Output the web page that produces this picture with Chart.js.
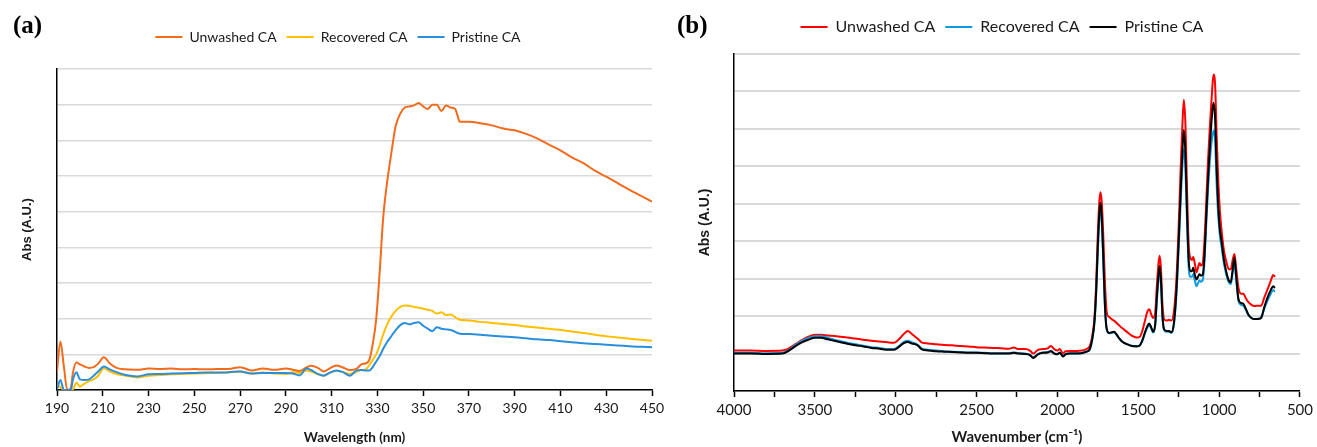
<!DOCTYPE html>
<html>
<head>
<meta charset="utf-8">
<script src="https://cdn.jsdelivr.net/npm/chart.js@4.4.0/dist/chart.umd.min.js"></script>
<style>
  html, body { margin: 0; padding: 0; background: #fff; }
  #wrap { position: relative; width: 1317px; height: 447px; overflow: hidden; }
  .panel { position: absolute; top: 0; }
  .tag { position: absolute; font-family: 'Liberation Serif', 'DejaVu Serif', serif; font-weight: bold; font-size: 25px; line-height: 1; }
</style>
</head>
<body>
<div id="wrap">
  <div class="panel" style="left:0"><canvas id="uv" width="676" height="447"></canvas></div>
  <div class="panel" style="left:686px"><canvas id="ir" width="631" height="447"></canvas></div>
  <div class="tag" style="left:13px;top:12px">(a)</div>
  <div class="tag" style="left:677px;top:12px">(b)</div>
</div>
<script>
const seriesNames = ['Unwashed CA', 'Recovered CA', 'Pristine CA'];

// (a) UV-vis, wavelength in nm
const uvWavelength = [190, 191.5, 193, 194.5, 196, 197, 198.5, 200, 202, 204, 206, 208, 210.5, 213, 216, 220, 225, 230, 235, 240,
  245, 250, 255, 260, 265, 270, 275, 280, 285, 290, 293, 296, 299, 301, 304, 306.5, 309, 312, 315, 318,
  321, 323, 325, 326.5, 328, 329.5, 331, 332.5, 334, 336, 338, 340, 342, 344, 346, 348, 350, 352, 354, 356,
  358, 360, 362, 364, 365, 366, 370, 375, 380, 385, 390, 395, 400, 405, 410, 415, 420, 425, 430, 435,
  440, 445, 450];
const uvUnwashed = [0.52, 1.36, 0.66, 0, 0.05, 0.5, 0.77, 0.72, 0.66, 0.62, 0.64, 0.74, 0.92, 0.75, 0.62, 0.58, 0.57, 0.6, 0.59, 0.6,
  0.58, 0.59, 0.58, 0.59, 0.59, 0.64, 0.55, 0.6, 0.57, 0.6, 0.57, 0.53, 0.63, 0.68, 0.62, 0.52, 0.6, 0.69, 0.63, 0.56,
  0.6, 0.72, 0.75, 0.85, 1.3, 2.0, 3.3, 4.8, 5.7, 6.6, 7.4, 7.75, 7.92, 7.95, 7.98, 8.05, 7.95, 7.88, 8.0, 8.0,
  7.82, 7.98, 7.92, 7.88, 7.7, 7.52, 7.52, 7.48, 7.42, 7.33, 7.28, 7.18, 7.05, 6.88, 6.72, 6.52, 6.36, 6.15, 5.98, 5.8,
  5.62, 5.45, 5.28];
const uvRecovered = [0.15, 0.08, 0, 0, 0, 0.02, 0.2, 0.1, 0.18, 0.25, 0.3, 0.4, 0.61, 0.52, 0.45, 0.4, 0.35, 0.4, 0.42, 0.44,
  0.45, 0.46, 0.47, 0.48, 0.49, 0.52, 0.46, 0.49, 0.46, 0.45, 0.5, 0.48, 0.55, 0.52, 0.44, 0.4, 0.48, 0.54, 0.5, 0.45,
  0.52, 0.56, 0.58, 0.7, 0.85, 1.0, 1.25, 1.55, 1.8, 2.05, 2.22, 2.33, 2.37, 2.36, 2.33, 2.31, 2.28, 2.25, 2.22, 2.14,
  2.18, 2.1, 2.12, 2.04, 2.0, 1.97, 1.95, 1.91, 1.88, 1.85, 1.82, 1.78, 1.75, 1.72, 1.68, 1.64, 1.6, 1.55, 1.51, 1.47,
  1.44, 1.41, 1.38];
const uvPristine = [0.02, 0.28, 0, 0, 0, 0.3, 0.5, 0.3, 0.28, 0.3, 0.4, 0.52, 0.66, 0.58, 0.5, 0.42, 0.38, 0.44, 0.45, 0.46,
  0.47, 0.48, 0.49, 0.49, 0.5, 0.52, 0.46, 0.48, 0.48, 0.48, 0.46, 0.41, 0.6, 0.56, 0.45, 0.4, 0.48, 0.55, 0.5, 0.4,
  0.55, 0.56, 0.55, 0.55, 0.65, 0.8, 0.95, 1.15, 1.32, 1.5, 1.68, 1.82, 1.88, 1.84, 1.88, 1.9, 1.8, 1.72, 1.65, 1.76,
  1.72, 1.7, 1.68, 1.63, 1.6, 1.58, 1.57, 1.55, 1.52, 1.5, 1.48, 1.45, 1.42, 1.4, 1.37, 1.34, 1.31, 1.29, 1.27, 1.25,
  1.23, 1.21, 1.2];

// (b) FTIR, wavenumber in cm-1
const irWavenumber = [4000, 3900, 3800, 3700, 3660, 3620, 3580, 3540, 3500, 3460, 3420, 3380, 3340, 3300, 3250, 3200, 3150, 3100, 3050, 3010,
  2980, 2950, 2925, 2900, 2880, 2860, 2840, 2800, 2750, 2700, 2650, 2600, 2550, 2500, 2450, 2400, 2350, 2300, 2270, 2240,
  2200, 2170, 2150, 2120, 2090, 2060, 2040, 2020, 2000, 1985, 1965, 1950, 1920, 1880, 1850, 1820, 1800, 1785, 1770, 1760,
  1750, 1740, 1733, 1725, 1715, 1705, 1695, 1680, 1665, 1650, 1635, 1620, 1600, 1570, 1540, 1510, 1490, 1475, 1460, 1445,
  1432, 1420, 1408, 1395, 1385, 1375, 1368, 1360, 1350, 1340, 1325, 1310, 1295, 1280, 1265, 1250, 1238, 1228, 1218, 1208,
  1198, 1188, 1178, 1168, 1160, 1150, 1140, 1130, 1122, 1112, 1102, 1092, 1080, 1068, 1056, 1045, 1035, 1025, 1015, 1005,
  995, 985, 970, 955, 940, 928, 916, 905, 895, 880, 865, 850, 835, 820, 800, 780, 760, 740, 720, 700,
  680, 665, 655];
const irUnwashed = [1.08, 1.08, 1.07, 1.08, 1.14, 1.25, 1.36, 1.45, 1.5, 1.5, 1.48, 1.47, 1.45, 1.43, 1.4, 1.37, 1.34, 1.32, 1.3, 1.29,
  1.38, 1.52, 1.6, 1.52, 1.45, 1.38, 1.3, 1.27, 1.25, 1.23, 1.22, 1.2, 1.19, 1.17, 1.16, 1.15, 1.14, 1.13, 1.16, 1.12,
  1.12, 1.08, 1.0, 1.1, 1.12, 1.14, 1.2, 1.12, 1.08, 1.12, 1.0, 1.06, 1.07, 1.07, 1.08, 1.12, 1.2, 1.45, 2.0, 2.9,
  4.2, 5.1, 5.31, 5.0, 4.0, 2.8, 2.1, 1.98, 1.92, 1.88, 1.82, 1.76, 1.68, 1.58, 1.48, 1.43, 1.45, 1.6, 1.85, 2.1,
  2.18, 2.05, 1.95, 2.1, 2.8, 3.4, 3.61, 3.3, 2.3, 1.92, 1.88, 1.9, 1.88, 2.1, 2.9, 4.4, 5.9, 7.0, 7.78, 7.1,
  5.3, 3.9, 3.55, 3.5, 3.58, 3.4, 3.17, 3.3, 3.42, 3.35, 3.4, 3.9, 5.0, 6.2, 7.15, 7.9, 8.45, 8.2, 6.8, 5.6,
  4.8, 4.3, 3.75, 3.45, 3.25, 3.25, 3.5, 3.66, 3.3, 2.75, 2.6, 2.6, 2.48, 2.38, 2.3, 2.27, 2.28, 2.28, 2.5, 2.72,
  2.95, 3.1, 3.05];
const irRecovered = [1.02, 1.02, 1.01, 1.02, 1.1, 1.23, 1.34, 1.42, 1.46, 1.46, 1.42, 1.37, 1.33, 1.29, 1.25, 1.21, 1.17, 1.15, 1.12, 1.12,
  1.2, 1.31, 1.34, 1.3, 1.27, 1.22, 1.14, 1.1, 1.08, 1.06, 1.05, 1.04, 1.03, 1.03, 1.02, 1.01, 1.01, 1.01, 1.03, 1.01,
  1.0, 0.97, 0.9, 0.99, 1.03, 1.04, 1.07, 1.01, 0.99, 1.03, 0.93, 0.99, 1.01, 1.01, 1.02, 1.05, 1.1, 1.35, 1.85, 2.6,
  3.7, 4.6, 4.85, 4.45, 3.3, 2.15, 1.64, 1.54, 1.55, 1.56, 1.5, 1.41, 1.32, 1.25, 1.21, 1.2, 1.22, 1.33, 1.52, 1.68,
  1.76, 1.67, 1.56, 1.75, 2.4, 2.95, 3.2, 2.9, 1.95, 1.62, 1.58, 1.58, 1.55, 1.75, 2.5, 3.8, 5.0, 5.95, 6.45, 5.9,
  4.45, 3.3, 3.05, 3.05, 3.12, 2.95, 2.8, 2.88, 2.95, 2.92, 2.95, 3.35, 4.4, 5.4, 6.2, 6.7, 6.95, 6.7, 5.5, 4.65,
  4.15, 3.85, 3.4, 3.1, 2.9, 2.85, 3.15, 3.45, 3.0, 2.4, 2.3, 2.28, 2.17, 2.03, 1.95, 1.92, 1.93, 1.97, 2.2, 2.42,
  2.6, 2.7, 2.65];
const irPristine = [1.0, 1.0, 0.99, 1.0, 1.08, 1.2, 1.3, 1.37, 1.42, 1.42, 1.38, 1.34, 1.3, 1.26, 1.22, 1.19, 1.15, 1.13, 1.1, 1.1,
  1.18, 1.28, 1.31, 1.27, 1.25, 1.2, 1.12, 1.08, 1.06, 1.05, 1.04, 1.03, 1.02, 1.02, 1.01, 1.0, 1.0, 1.0, 1.02, 1.0,
  0.99, 0.96, 0.88, 0.98, 1.02, 1.03, 1.06, 1.0, 0.98, 1.02, 0.92, 0.98, 1.0, 1.0, 1.01, 1.05, 1.12, 1.38, 1.9, 2.7,
  3.9, 4.8, 5.03, 4.6, 3.4, 2.2, 1.66, 1.55, 1.57, 1.58, 1.52, 1.42, 1.32, 1.25, 1.2, 1.19, 1.22, 1.35, 1.55, 1.72,
  1.8, 1.7, 1.58, 1.8, 2.5, 3.1, 3.34, 3.0, 2.0, 1.65, 1.6, 1.6, 1.57, 1.8, 2.6, 4.0, 5.3, 6.3, 6.97, 6.3,
  4.7, 3.5, 3.2, 3.2, 3.29, 3.1, 2.98, 3.05, 3.12, 3.08, 3.1, 3.5, 4.6, 5.7, 6.6, 7.3, 7.7, 7.3, 5.9, 4.9,
  4.3, 4.0, 3.5, 3.17, 2.95, 2.9, 3.25, 3.57, 3.1, 2.45, 2.35, 2.33, 2.2, 2.05, 1.95, 1.92, 1.92, 1.95, 2.25, 2.5,
  2.7, 2.8, 2.75];

const sans = "Lato, 'Noto Sans', sans-serif";
const wide = "'Liberation Sans', Arial, sans-serif";

function pairs(xs, ys) {
  return xs.map((x, i) => ({ x: x, y: ys[i] }));
}

function line(label, xs, ys, color, order) {
  return {
    label: label,
    data: pairs(xs, ys),
    xAxisID: 'x',
    yAxisID: 'y',
    borderColor: color,
    backgroundColor: color,
    borderWidth: 2,
    pointRadius: 0,
    cubicInterpolationMode: 'monotone',
    order: order
  };
}

function spectrumChart(id, opts) {
  const ctx = document.getElementById(id).getContext('2d');
  return new Chart(ctx, {
    type: 'line',
    data: { datasets: opts.datasets },
    options: {
      responsive: false,
      animation: false,
      layout: { padding: { left: opts.padLeft, right: opts.padRight, top: opts.padTop, bottom: 0 } },
      plugins: {
        legend: {
          position: 'top',
          labels: {
            usePointStyle: true,
            pointStyle: 'line',
            pointStyleWidth: 27,
            padding: 10,
            color: '#1a1a1a',
            font: { family: sans, size: opts.legendSize },
            sort: (a, b) => a.datasetIndex - b.datasetIndex
          }
        },
        tooltip: { enabled: false }
      },
      scales: {
        x: {
          type: 'linear',
          reverse: opts.reverse,
          min: opts.xMin,
          max: opts.xMax,
          afterFit: s => { s.height = opts.xHeight; },
          border: { color: '#000', width: 1.5 },
          grid: { drawOnChartArea: false, drawTicks: true, tickLength: 6, tickColor: '#000', tickWidth: 1.5 },
          ticks: {
            stepSize: opts.xStep,
            autoSkip: false,
            maxRotation: 0,
            padding: 4,
            color: '#1a1a1a',
            font: { family: sans, size: opts.tickSize },
            callback: opts.tickLabel
          },
          title: {
            display: true,
            text: opts.xTitle,
            color: '#1a1a1a',
            font: { family: sans, size: opts.xTitleSize, weight: 'bold' },
            padding: { top: 0, bottom: 1 }
          }
        },
        // empty band that keeps the gap between legend and plot
        spacer: {
          type: 'linear',
          position: 'top',
          grid: { display: false },
          border: { display: false },
          ticks: { display: false },
          afterFit: s => { s.height = opts.gapTop; }
        },
        y: {
          min: 0,
          max: 9,
          afterFit: s => { s.width = opts.yWidth; },
          border: { color: '#000', width: 1.5 },
          grid: { color: '#d9d9d9', lineWidth: opts.gridWidth, drawTicks: false },
          ticks: { stepSize: 1, display: false },
          title: {
            display: true,
            text: 'Abs (A.U.)',
            color: '#1a1a1a',
            font: { family: wide, size: opts.yTitleSize, weight: 'bold' },
            padding: { top: opts.yTitlePad, bottom: 0 }
          }
        }
      }
    }
  });
}

spectrumChart('uv', {
  datasets: [
    line(seriesNames[0], uvWavelength, uvUnwashed, '#F26B1D', 2),
    line(seriesNames[1], uvWavelength, uvRecovered, '#FFBF00', 1),
    line(seriesNames[2], uvWavelength, uvPristine, '#2B8EDB', 0)
  ],
  reverse: false, xMin: 190, xMax: 450, xStep: 20,
  tickLabel: v => v,
  xTitle: 'Wavelength (nm)',
  padLeft: 24, padRight: 24, padTop: 20, gapTop: 15, xHeight: 57, yWidth: 33,
  legendSize: 14, tickSize: 14, xTitleSize: 13.5, yTitleSize: 13, yTitlePad: -4, gridWidth: 1.5
});

spectrumChart('ir', {
  datasets: [
    line(seriesNames[0], irWavenumber, irUnwashed, '#FF0000', 2),
    line(seriesNames[1], irWavenumber, irRecovered, '#0A9BE3', 1),
    line(seriesNames[2], irWavenumber, irPristine, '#000000', 0)
  ],
  reverse: true, xMin: 500, xMax: 4000, xStep: 250,
  tickLabel: v => (v % 500 === 0 ? v : ''),
  xTitle: 'Wavenumber (cm\u207B\u00B9)',
  padLeft: 14, padRight: 13, padTop: 9, gapTop: 9, xHeight: 56, yWidth: 34,
  legendSize: 16, tickSize: 15, xTitleSize: 15, yTitleSize: 14, yTitlePad: -3.4, gridWidth: 2
});
</script>
</body>
</html>
